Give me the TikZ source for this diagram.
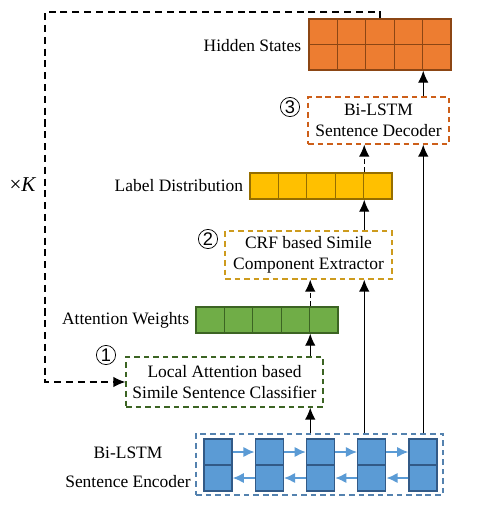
\documentclass[tikz,border=0pt]{standalone}
\usepackage{fontspec}
\setmainfont{Liberation Serif}
\newfontfamily\circfont{Liberation Sans}
\usetikzlibrary{arrows.meta,calc,positioning}
\definecolor{encblue}{RGB}{91,155,213}
\definecolor{encstroke}{RGB}{50,90,135}
\definecolor{encdash}{RGB}{84,130,175}
\definecolor{attgreen}{RGB}{112,173,71}
\definecolor{greenstroke}{RGB}{60,100,35}
\definecolor{labgold}{RGB}{255,192,0}
\definecolor{goldstroke}{RGB}{150,110,0}
\definecolor{goldash}{RGB}{205,155,30}
\definecolor{hidorange}{RGB}{237,125,49}
\definecolor{orangestroke}{RGB}{140,70,20}
\definecolor{orangedash}{RGB}{205,95,25}

\begin{document}
\begin{tikzpicture}[
  x=0.025cm, y=-0.025cm,
  font=\fontsize{12.4pt}{15pt}\selectfont,
  arrow/.style={-{Latex[length=3mm,width=2.6mm]}, line width=0.9pt},
  darrow/.style={arrow, dash pattern=on 3.6pt off 2.6pt},
  loopline/.style={-{Latex[length=3mm,width=2.6mm]}, line width=0.9pt, dash pattern=on 5pt off 3.4pt},
  module/.style={line width=0.8pt, dash pattern=on 4pt off 2.8pt, align=center, inner sep=0pt},
  cell/.style={draw, line width=0.9pt, minimum width=0.71cm, minimum height=0.65cm, inner sep=0pt},
  enccell/.style={draw=encstroke, fill=encblue, line width=0.9pt, minimum width=0.7cm, minimum height=0.65cm, inner sep=0pt},
  encarrow/.style={-{Latex[length=2.8mm,width=2.6mm]}, draw=encblue, line width=1.4pt},
  circnum/.style={circle, draw, line width=0.5pt, minimum size=0.48cm, inner sep=0pt, font=\circfont\fontsize{13pt}{13pt}\selectfont},
  barlabel/.style={anchor=east, inner sep=0pt}
]
\useasboundingbox (0,0) rectangle (488,507);

% Sentence encoder
\node[module, draw=encdash, minimum width=6.175cm, minimum height=1.525cm] (enc) at (319.5,464.5) {};
\foreach \i in {1,...,5}{
  \node[enccell] (eu\i) at ({218+51.25*(\i-1)},452) {};
  \node[enccell] (ed\i) at ({218+51.25*(\i-1)},478) {};
}
\foreach \i/\j in {1/2,2/3,3/4,4/5}{
  \draw[encarrow] (eu\i.east) -- (eu\j.west);
  \draw[encarrow] (ed\j.west) -- (ed\i.east);
}
\node[align=center, font=\fontsize{12.4pt}{20.6pt}\selectfont] (enclab) at (128,467) {Bi-LSTM\\Sentence Encoder};

% Step 1: classifier
\node[module, draw=greenstroke, minimum width=4.925cm, minimum height=1.25cm] (cls) at (224.5,382) {Local Attention based\\Simile Sentence Classifier};
\node[circnum] (n1) at (106,355) {1};
\foreach \i in {1,...,5}
  \node[cell, draw=greenstroke, fill=attgreen] (a\i) at ({196+28.4*(\i-0.5)},320) {};
\node[barlabel, left=0.15cm of a1] (attlab) {Attention Weights};

% Step 2: CRF extractor
\node[module, draw=goldash, minimum width=4.175cm, minimum height=1.2cm] (crf) at (308.5,255) {CRF based Simile\\Component Extractor};
\node[circnum] (n2) at (208,239) {2};
\foreach \i in {1,...,5}
  \node[cell, draw=goldstroke, fill=labgold] (l\i) at ({250+28.4*(\i-0.5)},186) {};
\node[barlabel, left=0.15cm of l1] (lablab) {Label Distribution};

% Step 3: decoder
\node[module, draw=orangedash, minimum width=3.525cm, minimum height=1.175cm] (dec) at (378.5,120.5) {Bi-LSTM\\Sentence Decoder};
\node[circnum] (n3) at (290,107) {3};
\foreach \i in {1,...,5}{
  \node[cell, draw=orangestroke, fill=hidorange, minimum height=0.6375cm] (h\i) at ({309+28.4*(\i-0.5)},31.75) {};
  \node[cell, draw=orangestroke, fill=hidorange, minimum height=0.6375cm] (hb\i) at ({309+28.4*(\i-0.5)},57.25) {};
}
\node[barlabel, anchor=east] (hidlab) at ($(h1.south west)+(-7,0)$) {Hidden States};

% Connections
\draw[arrow] (enc.north -| a4.east) -- (cls.south -| a4.east);
\draw[arrow] (cls.north -| a4.east) -- (a4.south east);
\draw[darrow] (a4.north east) -- (crf.south -| a4.east);
\draw[arrow] (enc.north -| l4.east) -- (crf.south -| l4.east);
\draw[arrow] (crf.north -| l4.east) -- (l4.south east);
\draw[darrow] (l4.north east) -- (dec.south -| l4.east);
\draw[arrow] (enc.north -| hb4.east) -- (dec.south -| hb4.east);
\draw[arrow] (dec.north -| hb4.east) -- (hb4.south east);

% Iteration loop
\coordinate (loop) at (45,12);
\draw[loopline] (h3.north) |- (loop) |- (cls.west);
\node[font=\fontsize{15pt}{15pt}\selectfont] (times) at (23,185) {×\textit{K}};

\end{tikzpicture}
\end{document}
